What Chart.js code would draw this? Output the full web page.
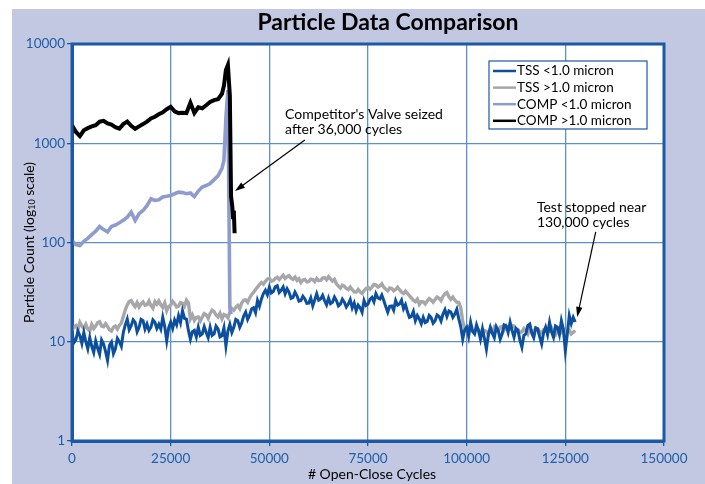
<!DOCTYPE html>
<html>
<head>
<meta charset="utf-8">
<title>Particle Data Comparison</title>
<script src="https://cdn.jsdelivr.net/npm/chart.js@4.4.1/dist/chart.umd.min.js"></script>
<style>
  html, body { margin: 0; padding: 0; background: #ffffff; }
  #wrap { width: 705px; height: 484px; }
</style>
</head>
<body>
<div id="wrap"><canvas id="chart" width="705" height="484"></canvas></div>
<script>
"use strict";

// TSS readings were logged once every 500 open-close cycles
const cycleStep = 500;

// TSS <1.0 micron (blue)
const tssBelow = [
  12, 9.8, 10.5, 12.8, 11.5, 9.6, 12.4, 10, 8.5, 11,
  9, 7.8, 10.2, 8.6, 7.5, 10.4, 9.5, 8, 6.5, 9.2,
  9.9, 7.6, 8.5, 10.8, 10, 9, 12.4, 14.8, 16.9, 13.2,
  14.5, 16.6, 15.7, 12.6, 14, 16.8, 16.3, 13.4, 15.1, 13,
  14, 16.6, 15.7, 13.6, 15, 13.4, 17.6, 14.2, 10.2, 13.8,
  15.7, 13.6, 16.5, 14.8, 18.3, 15.6, 20.5, 17.2, 16.9, 13,
  10.6, 12.6, 13, 11.2, 14, 11.6, 12, 14.2, 12.4, 11,
  14, 11.6, 12, 14.4, 13.5, 11.2, 11.5, 13.8, 9.1, 12.8,
  15, 12.4, 14, 16.8, 16.3, 14, 15.5, 18.2, 19.9, 16.8,
  18.5, 21.4, 22, 19.6, 26, 22.8, 27, 30.6, 33, 29.8,
  35.4, 31, 32, 35.8, 36.7, 31.4, 33, 35.6, 30.4, 34.2,
  31.5, 27.4, 28, 31.6, 29, 25.6, 26, 28.8, 27, 24.4,
  24.5, 27.6, 23, 26.4, 30.4, 26.2, 27, 29.4, 26, 23.6,
  27.5, 24.2, 25, 28.2, 26, 23, 24, 26.8, 25, 22.4,
  24, 26.6, 22, 24.6, 20.5, 23.4, 22, 19.8, 26, 23.2,
  24, 26.8, 28, 25.2, 30.4, 27.6, 27, 29.6, 26, 22.6,
  19.9, 22.8, 23, 20.8, 26, 23.4, 24, 26.2, 21.5, 23.6,
  20, 17.6, 18, 20.2, 16.3, 18.4, 17, 15.2, 17.6, 15.6,
  16, 18.4, 17.5, 15.4, 16.3, 18.6, 18, 16.2, 19, 21,
  18, 20.4, 19.9, 17.6, 19, 21.2, 17, 14.2, 10.6, 13.2,
  14, 11.4, 15.7, 12.8, 12, 14.8, 12.9, 10.6, 13.5, 10.8,
  8.4, 11.8, 14, 12.2, 11, 14.2, 13, 10.6, 12, 14.8,
  14.5, 12.4, 15.7, 13, 11.1, 13.6, 13, 10.4, 8.8, 11.6,
  12, 14.6, 15.1, 12.2, 11, 13.8, 13.5, 11.2, 9.5, 12.4,
  14, 11.8, 15.7, 12.6, 11.1, 14.4, 14, 11.8, 16.3, 13.4,
  8.1, 12, 18.3, 15.2, 17.6, 15.8
];

// TSS >1.0 micron (grey)
const tssAbove = [
  13, 14.2, 14.6, 13.2, 15.7, 14.4, 13.7, 15, 13.4, 12.8,
  14.9, 13.6, 14.4, 15.6, 15.9, 14.4, 14.2, 15.2, 14.3, 13.2,
  12.8, 14, 14.4, 13.4, 14.6, 15.4, 18, 21, 23.5, 25.4,
  26, 23.8, 22.6, 24.8, 22.4, 24, 25.2, 23.4, 23.6, 25.8,
  23.2, 21.8, 25.4, 24, 25.8, 23.6, 22.2, 24.6, 20.5, 22.6,
  23.4, 25.6, 24.2, 22.4, 22.8, 24.8, 24.4, 22.8, 26.2, 24.6,
  17, 18.6, 16.4, 17.6, 17.8, 16.2, 17.7, 19.2, 18.6, 17.2,
  19.3, 20.8, 20.1, 18.6, 17.8, 19.4, 17, 18.8, 18.4, 17.4,
  20, 21.6, 20.8, 22.2, 23.2, 21.6, 24.6, 26.2, 26.4, 25,
  27.6, 29.8, 31.4, 33.6, 35.5, 37.6, 39.4, 38, 40.6, 42.8,
  43.5, 40.8, 41.4, 43.6, 44.5, 42.4, 44.6, 46.8, 43.4, 45.2,
  46.4, 43.8, 42.6, 44.8, 41.5, 43.2, 39.6, 41.8, 42.4, 40.2,
  40.6, 42.8, 42.3, 40.4, 43.4, 41.2, 41.6, 43.8, 44.3, 42.2,
  45.2, 43, 40.8, 42.6, 38.3, 36.4, 34.7, 37.2, 36.3, 34.4,
  33.6, 35.6, 33.4, 31.8, 31.7, 33.6, 31.8, 30.6, 32.7, 34.4,
  35.3, 33.8, 35.6, 37.8, 37.4, 35.6, 36.6, 38.4, 35.4, 33.8,
  32.6, 34.8, 34.4, 32.6, 33.6, 35.4, 33.4, 31.6, 30.6, 32.4,
  30.8, 29, 27.6, 26.2, 25.3, 26.8, 23.8, 25.4, 25.2, 24,
  25.7, 27.2, 26.3, 25, 26.6, 28.2, 27.4, 26, 28.7, 30.4,
  31.3, 28.4, 26.8, 28.2, 26.3, 25, 24.8, 22, 16, 13.8,
  12.9, 14, 13.6, 12.6, 12.3, 13.6, 13.2, 12.2, 11.9, 13,
  12.7, 11.8, 13.3, 12.4, 14, 13, 12.8, 14, 14.2, 13.2,
  14.4, 13.2, 13.4, 14.6, 14.4, 13.4, 13.3, 12.4, 12.6, 13.6,
  13, 12, 13.7, 12.8, 12.6, 13.8, 13.5, 12.6, 12.3, 13.2,
  13.4, 12.4, 12.8, 13.8, 12.5, 11.8, 13.2, 12.4, 12.3, 13.4,
  12.1, 13, 13.1, 12, 12.4, 13
];

// competitor valve: finer sampling around the seizure
const compCycles = [
  0, 1000, 2000, 3000, 4000, 5000, 6000, 7000, 8000, 9000,
  10000, 11000, 12000, 13000, 14000, 15000, 16000, 17000, 18000, 19000,
  20000, 21000, 22000, 23000, 24000, 25000, 26000, 27000, 28000, 29000,
  30000, 31000, 32000, 33000, 34000, 35000, 36000, 37000, 38000,
  38500, 39000, 39500, 40000, 40300, 40600, 40800, 41000, 41200
];

// COMP <1.0 micron (light blue)
const compBelow = [
  105, 95, 93, 103, 110, 120, 130, 145, 135, 128,
  145, 150, 158, 167, 180, 202, 167, 195, 210, 235,
  276, 265, 270, 287, 292, 298, 310, 322, 318, 310,
  315, 290, 330, 362, 375, 392, 430, 470, 560,
  673, 1800, 3430, 22, 19, null, null, null, null
];

// COMP >1.0 micron (black)
const compAbove = [
  1517, 1300, 1180, 1350, 1420, 1480, 1520, 1650, 1680, 1580,
  1540, 1450, 1406, 1560, 1650, 1500, 1400, 1480, 1560, 1650,
  1780, 1850, 1960, 2050, 2200, 2330, 2093, 2013, 2030, 2013,
  2553, 2013, 2300, 2250, 2415, 2600, 2720, 2780, 3150,
  3800, 5460, 6130, 3000, 290, 235, 180, 210, 124
];

const seriesLabels = ["TSS <1.0 micron", "TSS >1.0 micron", "COMP <1.0 micron", "COMP >1.0 micron"];
const seriesColors = ["#0b4f9e", "#a7a7aa", "#8e9ccd", "#000000"];
const xTicks = [0, 25000, 50000, 75000, 100000, 125000, 150000];
const yTicks = [1, 10, 100, 1000, 10000];

const FONT = "Lato";
const PANEL_BG = "#c3c8e2";
const BORDER_BLUE = "#1b59a4";
const GRID_BLUE = "#5d8fca";
const TICK_BLUE = "#1d5ea8";

// callouts, anchored in data space (cycles, count)
const notes = [
  { lines: ["Competitor's Valve seized", "after 36,000 cycles"], text: [54000, 1930], from: [59000, 1080], to: [41300, 330] },
  { lines: ["Test stopped near", "130,000 cycles"], text: [117800, 223], from: [132700, 128], to: [128000, 17.8] }
];

function toPoints(values, xs) {
  return values.map((v, i) => ({ x: xs ? xs[i] : i * cycleStep, y: v }));
}

function drawArrow(ctx, x1, y1, x2, y2) {
  const ang = Math.atan2(y2 - y1, x2 - x1);
  const len = 10, half = 3.2;
  ctx.beginPath();
  ctx.moveTo(x1, y1);
  ctx.lineTo(x2 - Math.cos(ang) * len * 0.8, y2 - Math.sin(ang) * len * 0.8);
  ctx.stroke();
  ctx.beginPath();
  ctx.moveTo(x2, y2);
  ctx.lineTo(x2 - Math.cos(ang) * len + Math.sin(ang) * half, y2 - Math.sin(ang) * len - Math.cos(ang) * half);
  ctx.lineTo(x2 - Math.cos(ang) * len - Math.sin(ang) * half, y2 - Math.sin(ang) * len + Math.cos(ang) * half);
  ctx.closePath();
  ctx.fill();
}

const decorPlugin = {
  id: "decor",
  beforeDraw(chart) {
    const { ctx, chartArea: a } = chart;
    ctx.save();
    ctx.fillStyle = "#ffffff";
    ctx.fillRect(0, 0, chart.width, chart.height);
    ctx.fillStyle = PANEL_BG;
    ctx.fillRect(12, 9, chart.width - 12, chart.height - 9);
    ctx.fillStyle = "#ffffff";
    ctx.fillRect(a.left, a.top, a.right - a.left, a.bottom - a.top);
    ctx.restore();
  },
  afterDraw(chart) {
    const { ctx, chartArea: a } = chart;
    const xs = chart.scales.x, ys = chart.scales.y;
    ctx.save();

    // frame
    ctx.strokeStyle = BORDER_BLUE;
    ctx.lineWidth = 3;
    ctx.strokeRect(a.left, a.top, a.right - a.left, a.bottom - a.top);

    // title
    ctx.fillStyle = "#000";
    ctx.textAlign = "center";
    ctx.textBaseline = "middle";
    ctx.font = `bold 23px "${FONT}"`;
    ctx.fillText("Particle Data Comparison", 388, 23);

    // x title
    ctx.font = `14px "${FONT}"`;
    ctx.fillText("# Open-Close Cycles", 372, 474);

    // y title with subscript
    ctx.save();
    ctx.translate(29, (a.top + a.bottom) / 2);
    ctx.rotate(-Math.PI / 2);
    const parts = [
      ["Particle Count (log", `14px "${FONT}"`, 0],
      ["10", `9px "${FONT}"`, 3],
      [" scale)", `14px "${FONT}"`, 0]
    ];
    let total = 0;
    parts.forEach(p => { ctx.font = p[1]; total += ctx.measureText(p[0]).width; });
    let px = -total / 2;
    ctx.textAlign = "left";
    parts.forEach(p => {
      ctx.font = p[1];
      ctx.fillText(p[0], px, p[2]);
      px += ctx.measureText(p[0]).width;
    });
    ctx.restore();

    // legend
    const lx = 489, ly = 61, lw = 158, lh = 68;
    ctx.fillStyle = "#fff";
    ctx.fillRect(lx, ly, lw, lh);
    ctx.strokeStyle = BORDER_BLUE;
    ctx.lineWidth = 1.2;
    ctx.strokeRect(lx, ly, lw, lh);
    ctx.font = `13.5px "${FONT}"`;
    ctx.textAlign = "left";
    ctx.textBaseline = "middle";
    chart.data.datasets.forEach((ds, i) => {
      const ry = ly + 10 + i * 16.6;
      ctx.strokeStyle = ds.borderColor;
      ctx.lineWidth = 2.5;
      ctx.beginPath();
      ctx.moveTo(lx + 4, ry);
      ctx.lineTo(lx + 27, ry);
      ctx.stroke();
      ctx.fillStyle = "#000";
      ctx.fillText(ds.label, lx + 28, ry);
    });

    // callouts
    ctx.font = `14px "${FONT}"`;
    ctx.fillStyle = "#000";
    ctx.strokeStyle = "#000";
    ctx.lineWidth = 1.2;
    notes.forEach(n => {
      const tx = xs.getPixelForValue(n.text[0]), ty = ys.getPixelForValue(n.text[1]);
      n.lines.forEach((t, k) => ctx.fillText(t, tx, ty + k * 15));
      drawArrow(ctx,
        xs.getPixelForValue(n.from[0]), ys.getPixelForValue(n.from[1]),
        xs.getPixelForValue(n.to[0]), ys.getPixelForValue(n.to[1]));
    });
    ctx.restore();
  }
};

function makeDataset(idx, points, order, width) {
  return {
    label: seriesLabels[idx],
    data: points,
    borderColor: seriesColors[idx],
    backgroundColor: seriesColors[idx],
    borderWidth: width,
    pointRadius: 0,
    tension: 0,
    spanGaps: false,
    order: order
  };
}

new Chart(document.getElementById("chart"), {
  type: "line",
  data: {
    datasets: [
      makeDataset(0, toPoints(tssBelow), 0, 3),
      makeDataset(1, toPoints(tssAbove), 3, 3.4),
      makeDataset(2, toPoints(compBelow, compCycles), 2, 3.6),
      makeDataset(3, toPoints(compAbove, compCycles), 1, 4)
    ]
  },
  options: {
    responsive: false,
    animation: false,
    devicePixelRatio: 1,
    layout: { padding: { top: 44, right: 41, left: 0, bottom: 0 } },
    plugins: {
      legend: { display: false },
      tooltip: { enabled: false }
    },
    scales: {
      x: {
        type: "linear",
        min: 0,
        max: 150000,
        afterBuildTicks: s => { s.ticks = xTicks.map(v => ({ value: v })); },
        afterFit: s => { s.height = 43; },
        ticks: {
          color: TICK_BLUE,
          font: { family: FONT, size: 13.5 },
          padding: 5,
          maxRotation: 0,
          callback: v => String(v)
        },
        grid: { color: GRID_BLUE, lineWidth: 1.3, tickColor: BORDER_BLUE, tickLength: 5 },
        border: { color: BORDER_BLUE, width: 3 }
      },
      y: {
        type: "logarithmic",
        min: 1,
        max: 10000,
        afterBuildTicks: s => { s.ticks = yTicks.map(v => ({ value: v })); },
        afterFit: s => { s.width = 72; },
        ticks: {
          color: TICK_BLUE,
          font: { family: FONT, size: 13.5 },
          padding: 2,
          callback: v => String(v)
        },
        grid: { color: GRID_BLUE, lineWidth: 1.3, tickColor: BORDER_BLUE, tickLength: 5 },
        border: { color: BORDER_BLUE, width: 3 }
      }
    }
  },
  plugins: [decorPlugin]
});
</script>
</body>
</html>
